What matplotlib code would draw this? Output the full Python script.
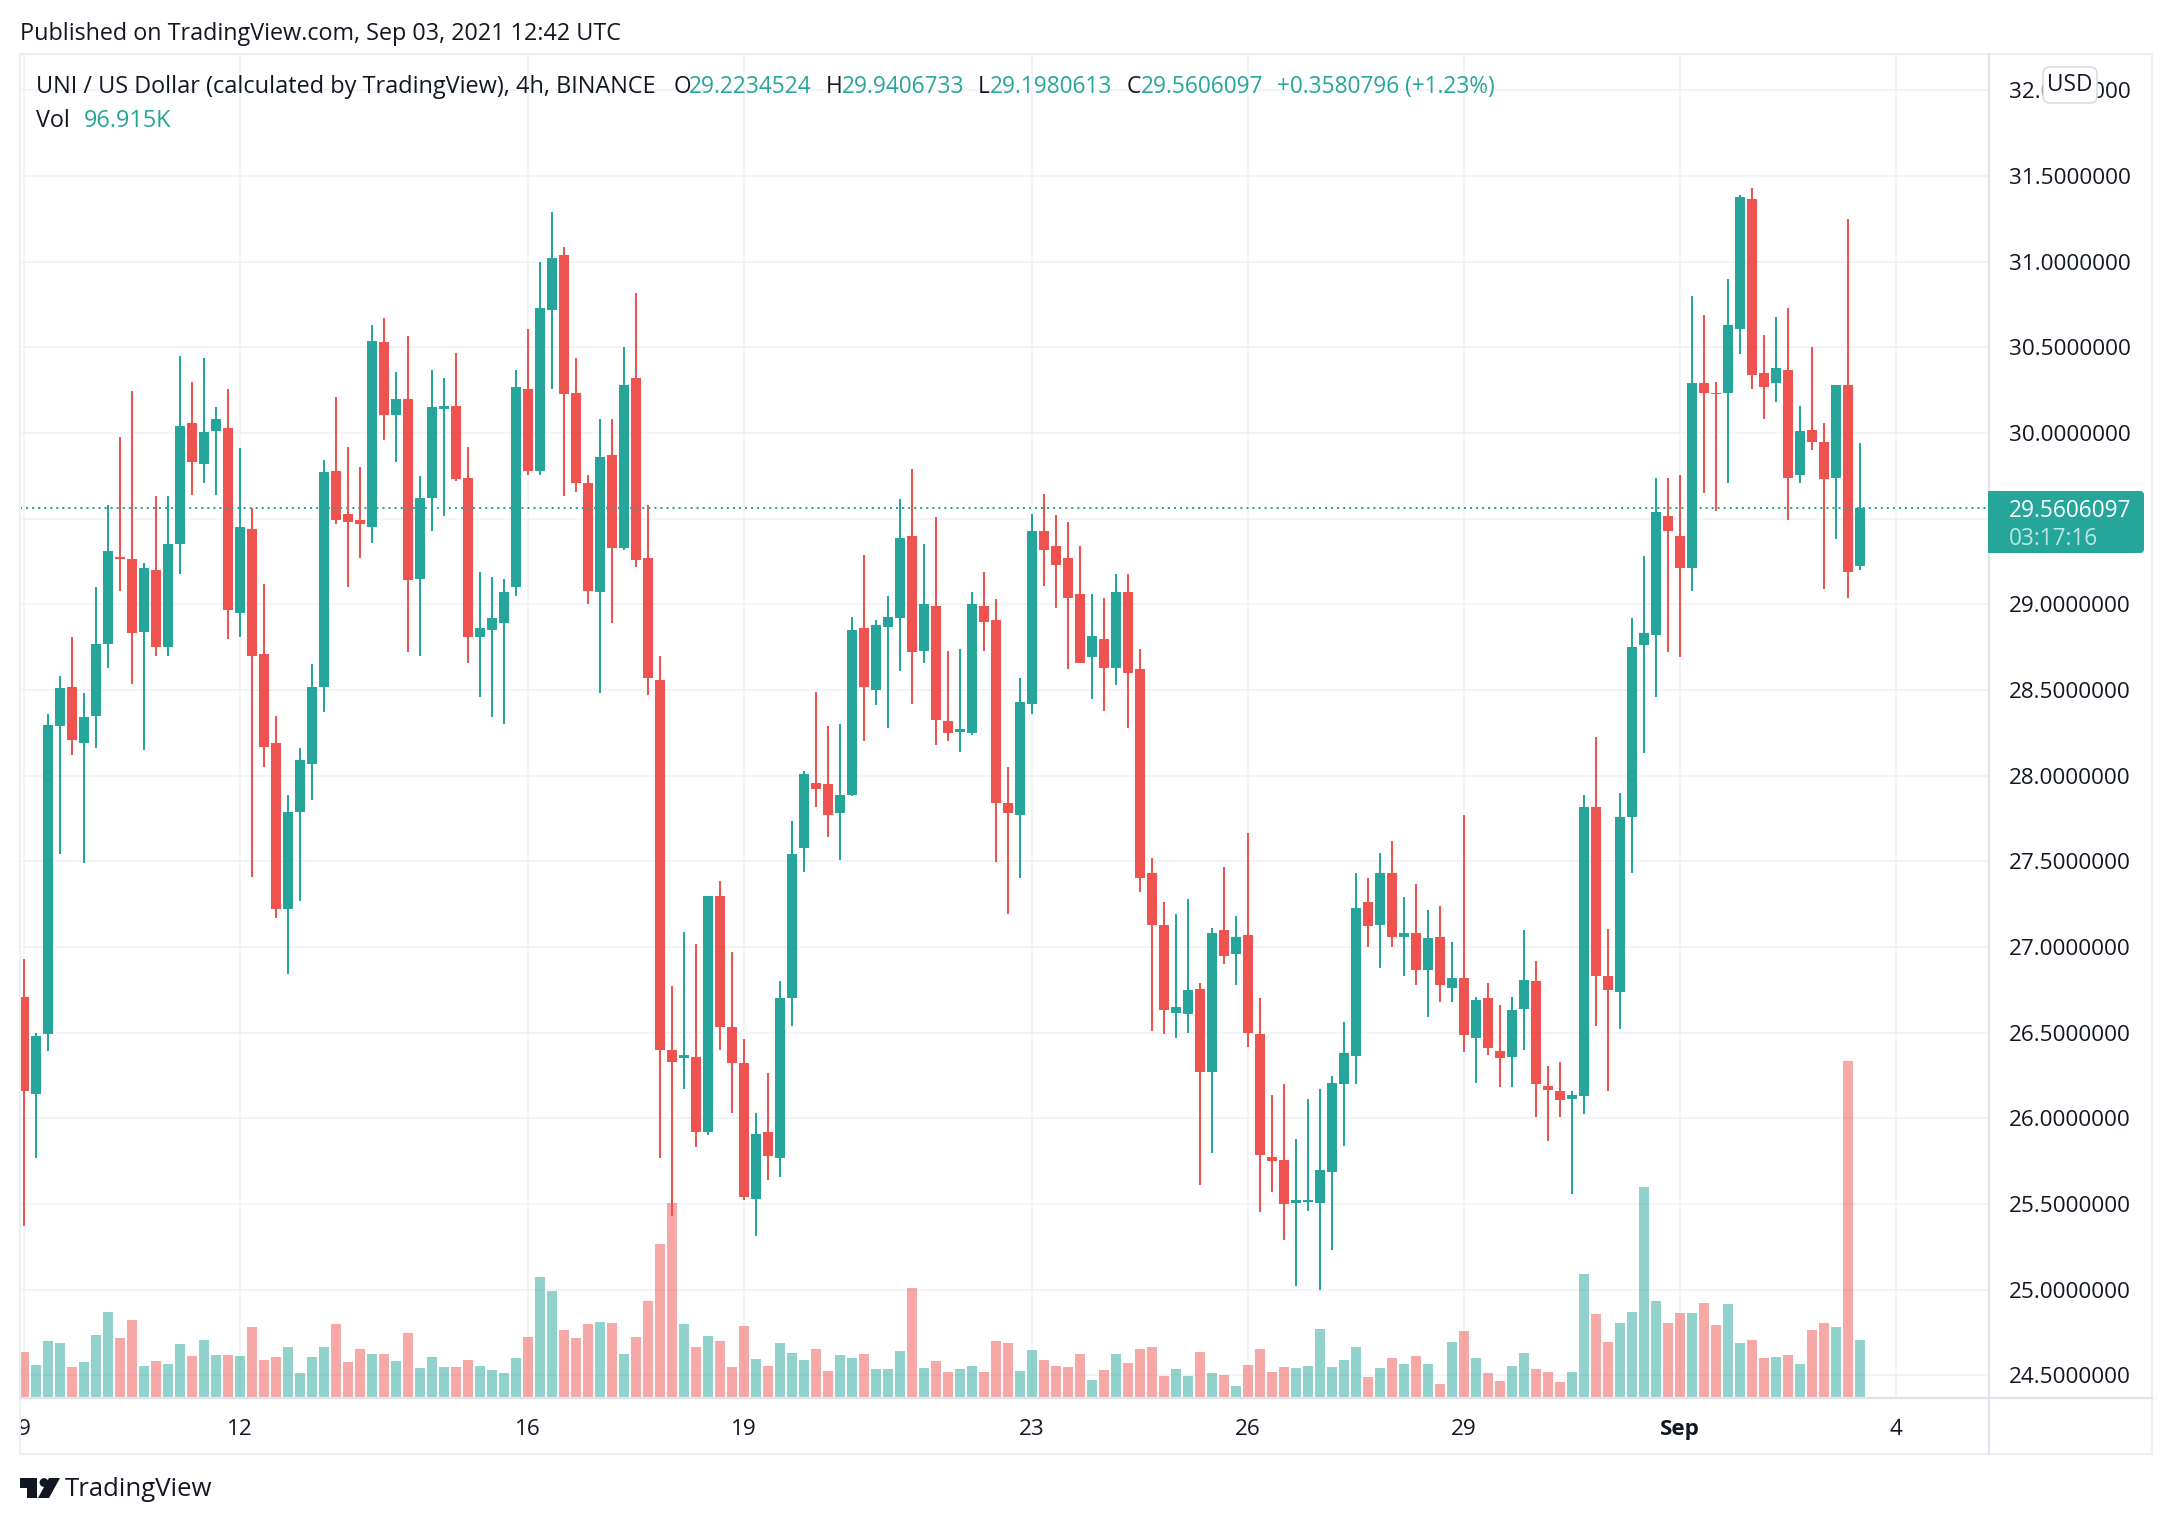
#Recreates a TradingView UNI/USD 4h candlestick chart with volume bars.

import matplotlib
matplotlib.use('Agg')
import matplotlib.pyplot as plt
from matplotlib.patches import Rectangle, FancyBboxPatch, Polygon, Circle

plt.rcParams['font.family'] = ['Open Sans', 'Noto Sans', 'DejaVu Sans']

# Candles, 4h each, index 0 is 9 Aug 00:00
opens = [26.71, 26.14, 26.49, 28.29, 28.52, 28.19, 28.35, 28.77, 29.275, 29.265,
         28.84, 29.20, 28.75, 29.35, 30.06, 29.82, 30.01, 30.03, 28.95, 29.44,
         28.71, 28.19, 27.22, 27.79, 28.07, 28.52, 29.78, 29.53, 29.49, 29.45,
         30.53, 30.105, 30.20, 29.15, 29.62, 30.14, 30.16, 29.74, 28.81, 28.85,
         28.89, 29.10, 30.26, 29.78, 30.72, 31.04, 30.235, 29.71, 29.07, 29.87,
         29.33, 30.32, 29.27, 28.56, 26.40, 26.35, 26.36, 25.92, 27.30, 26.53,
         26.32, 25.53, 25.92, 25.77, 26.70, 27.58, 27.96, 27.95, 27.78, 27.89,
         28.86, 28.50, 28.87, 28.92, 29.40, 28.73, 28.99, 28.32, 28.255, 28.25,
         28.99, 28.91, 27.84, 27.77, 28.42, 29.43, 29.34, 29.27, 29.06, 28.69,
         28.80, 28.63, 29.07, 28.62, 27.43, 27.13, 26.615, 26.61, 26.755, 26.27,
         27.10, 26.96, 27.07, 26.49, 25.774, 25.756, 25.505, 25.51, 25.505, 25.686,
         26.20, 26.363, 27.26, 27.13, 27.43, 27.06, 27.08, 26.865, 27.06, 26.76,
         26.82, 26.47, 26.70, 26.393, 26.358, 26.64, 26.80, 26.188, 26.16, 26.112,
         26.13, 27.816, 26.83, 26.74, 27.76, 28.76, 28.82, 29.515, 29.40, 29.215,
         30.29, 30.235, 30.235, 30.61, 31.367, 30.35, 30.29, 30.37, 29.755, 30.02,
         29.95, 29.74, 30.28, 29.2235]
highs = [26.93, 26.50, 28.36, 28.58, 28.81, 28.48, 29.10, 29.58, 29.98, 30.245,
         29.24, 29.63, 29.63, 30.45, 30.30, 30.44, 30.15, 30.26, 29.91, 29.56,
         29.12, 28.35, 27.89, 28.16, 28.65, 29.84, 30.21, 29.92, 29.80, 30.63,
         30.67, 30.355, 30.565, 29.75, 30.37, 30.32, 30.47, 29.92, 29.19, 29.16,
         29.15, 30.37, 30.61, 30.997, 31.29, 31.085, 30.44, 29.755, 30.08, 30.08,
         30.50, 30.82, 29.58, 28.70, 26.77, 27.09, 27.02, 27.30, 27.385, 26.97,
         26.46, 26.03, 26.265, 26.80, 27.735, 28.03, 28.49, 28.29, 28.30, 28.925,
         29.29, 28.91, 29.05, 29.615, 29.79, 29.35, 29.51, 28.73, 28.74, 29.07,
         29.19, 29.03, 28.05, 28.57, 29.53, 29.645, 29.52, 29.48, 29.34, 29.06,
         29.04, 29.18, 29.18, 28.74, 27.52, 27.26, 27.19, 27.28, 26.79, 27.11,
         27.465, 27.18, 27.665, 26.70, 26.136, 26.20, 25.88, 26.11, 26.17, 26.247,
         26.56, 27.43, 27.40, 27.55, 27.62, 27.29, 27.37, 27.215, 27.24, 27.03,
         27.77, 26.71, 26.79, 26.66, 26.71, 27.10, 26.92, 26.305, 26.328, 26.16,
         27.89, 28.225, 27.105, 27.90, 28.92, 29.28, 29.74, 29.74, 29.755, 30.80,
         30.69, 30.30, 30.90, 31.39, 31.43, 30.57, 30.68, 30.73, 30.16, 30.50,
         30.06, 30.28, 31.25, 29.9407]
lows = [25.37, 25.77, 26.39, 27.54, 28.12, 27.49, 28.16, 28.63, 29.08, 28.535,
        28.15, 28.70, 28.70, 29.18, 29.64, 29.71, 29.64, 28.80, 28.81, 27.41,
        28.05, 27.17, 26.84, 27.27, 27.86, 28.37, 29.47, 29.10, 29.27, 29.36,
        29.96, 29.83, 28.72, 28.70, 29.43, 29.515, 29.72, 28.66, 28.46, 28.34,
        28.30, 29.05, 29.755, 29.755, 30.26, 29.63, 29.655, 29.00, 28.48, 28.89,
        29.32, 29.22, 28.47, 25.77, 25.43, 26.17, 25.83, 25.90, 26.40, 26.03,
        25.52, 25.31, 25.64, 25.66, 26.54, 27.44, 27.82, 27.64, 27.51, 27.88,
        28.20, 28.41, 28.28, 28.61, 28.42, 28.66, 28.18, 28.20, 28.14, 28.24,
        28.73, 27.495, 27.19, 27.40, 28.36, 29.11, 28.98, 28.62, 28.655, 28.45,
        28.38, 28.53, 28.28, 27.32, 26.51, 26.49, 26.47, 26.50, 25.61, 25.80,
        26.90, 26.78, 26.416, 25.45, 25.57, 25.29, 25.02, 25.46, 25.00, 25.23,
        25.84, 26.20, 27.00, 26.88, 27.00, 26.83, 26.78, 26.59, 26.68, 26.68,
        26.387, 26.206, 26.37, 26.18, 26.18, 26.40, 26.007, 25.867, 26.007, 25.558,
        26.025, 26.54, 26.16, 26.52, 27.43, 28.13, 28.46, 28.72, 28.69, 29.08,
        29.65, 29.544, 29.71, 30.46, 30.26, 30.08, 30.18, 29.49, 29.71, 29.90,
        29.09, 29.38, 29.04, 29.198]
closes = [26.16, 26.48, 28.295, 28.51, 28.21, 28.34, 28.77, 29.31, 29.267, 28.83,
          29.21, 28.75, 29.35, 30.04, 29.83, 30.005, 30.08, 28.97, 29.45, 28.70,
          28.17, 27.22, 27.79, 28.09, 28.52, 29.77, 29.49, 29.48, 29.47, 30.54,
          30.105, 30.20, 29.14, 29.62, 30.15, 30.16, 29.73, 28.81, 28.86, 28.92,
          29.07, 30.27, 29.78, 30.73, 31.02, 30.23, 29.71, 29.08, 29.86, 29.33,
          30.28, 29.26, 28.57, 26.40, 26.33, 26.37, 25.92, 27.30, 26.53, 26.32,
          25.54, 25.91, 25.78, 26.70, 27.54, 28.01, 27.92, 27.77, 27.89, 28.85,
          28.52, 28.88, 28.925, 29.39, 28.72, 29.00, 28.325, 28.25, 28.27, 29.00,
          28.90, 27.84, 27.78, 28.43, 29.43, 29.32, 29.23, 29.04, 28.66, 28.815,
          28.63, 29.07, 28.60, 27.40, 27.13, 26.63, 26.65, 26.75, 26.27, 27.08,
          26.95, 27.06, 26.50, 25.785, 25.75, 25.50, 25.523, 25.523, 25.698, 26.206,
          26.38, 27.23, 27.12, 27.43, 27.06, 27.08, 26.865, 27.05, 26.78, 26.82,
          26.488, 26.69, 26.41, 26.352, 26.63, 26.81, 26.20, 26.165, 26.107, 26.136,
          27.816, 26.83, 26.75, 27.76, 28.75, 28.83, 29.54, 29.43, 29.215, 30.29,
          30.235, 30.23, 30.63, 31.377, 30.34, 30.27, 30.38, 29.74, 30.01, 29.95,
          29.73, 30.28, 29.19, 29.5606]
# Volume in thousands
volumes = [76.5, 54.4, 95.2, 91.8, 51, 59.5, 105.4, 144.5, 100.3, 130.9,
           52.7, 61.2, 56.1, 90.1, 69.7, 96.9, 71.4, 71.4, 69.7, 119,
           62.9, 68, 85, 40.8, 68, 85, 124.1, 59.5, 81.6, 73.1,
           73.1, 61.2, 108.8, 49.3, 68, 51, 51, 62.9, 52.7, 45.9,
           40.8, 66.3, 102, 204, 180.2, 113.9, 100.3, 124.1, 127.5, 125.8,
           73.1, 102, 163.2, 260.1, 329.8, 124.1, 85, 103.7, 95.2, 51,
           120.7, 64.6, 52.7, 91.8, 74.8, 62.9, 81.6, 44.2, 71.4, 66.3,
           73.1, 47.6, 47.6, 78.2, 185.3, 49.3, 61.2, 42.5, 47.6, 52.7,
           42.5, 95.2, 91.8, 44.2, 79.9, 62.9, 52.7, 51, 73.1, 28.9,
           45.9, 73.1, 57.8, 81.6, 85, 35.7, 47.6, 35.7, 76.5, 40.8,
           37.4, 18.7, 54.4, 81.6, 42.5, 51, 49.3, 52.7, 115.6, 51,
           62.9, 85, 34, 49.3, 66.3, 56.1, 69.7, 56.1, 22.1, 93.5,
           112.2, 66.3, 40.8, 27.2, 52.7, 74.8, 47.6, 42.5, 25.5, 42.5,
           209.1, 141.1, 93.5, 125.8, 144.5, 357, 163.2, 125.8, 142.8, 142.8,
           159.8, 122.4, 158.1, 91.8, 96.9, 66.3, 68, 71.4, 56.1, 113.9,
           125.8, 119, 571.2, 96.9]

price_ticks = [24.5, 25.0, 25.5, 26.0, 26.5, 27.0, 27.5, 28.0, 28.5, 29.0, 29.5, 30.0, 30.5, 31.0, 31.5, 32.0]
date_ticks = [0, 18, 42, 60, 84, 102, 120, 138, 156]
date_labels = ['9', '12', '16', '19', '23', '26', '29', 'Sep', '4']
last_price = 29.5606097

GREEN = '#26a69a'
RED = '#ef5350'
TEXT = '#131722'
GRID = '#f2f3f5'
BORDER = '#e0e3eb'
FRAME = '#eeeff4'

W, H = 2172, 1524
# chart pane in pixels
PANE_L, PANE_R, PANE_T, PANE_B = 20, 1989, 54, 1398
x_lim = (-1/3, 163.75)
y_lim = (24.367, 32.213)
vol_lim = (-1.7, 2283)

fig = plt.figure(figsize=(W/100, H/100), dpi=100, facecolor='white')
pane = [PANE_L/W, 1-PANE_B/H, (PANE_R-PANE_L)/W, (PANE_B-PANE_T)/H]

# Grid lies at the bottom so it shows through the volume bars
ax_grid = fig.add_axes(pane, zorder=0)
ax_grid.set_xlim(x_lim)
ax_grid.set_ylim(y_lim)
ax_grid.hlines(price_ticks, x_lim[0], x_lim[1], color=GRID, lw=1.3)
ax_grid.vlines(date_ticks, y_lim[0], y_lim[1], color=GRID, lw=1.3)
ax_grid.axis('off')

x = list(range(len(opens)))
up = [c >= o for o, c in zip(opens, closes)]
colors = [GREEN if u else RED for u in up]

ax_vol = fig.add_axes(pane, zorder=1)
ax_vol.patch.set_visible(False)
ax_vol.set_xlim(x_lim)
ax_vol.set_ylim(vol_lim)
ax_vol.bar(x, volumes, width=0.83, color=colors, alpha=0.5, linewidth=0)
ax_vol.axis('off')

ax = fig.add_axes(pane, zorder=2)
ax.patch.set_visible(False)
ax.set_xlim(x_lim)
ax.set_ylim(y_lim)
ax.vlines(x, lows, highs, color=colors, lw=1.45, zorder=2)
bottoms = [min(o, c) for o, c in zip(opens, closes)]
heights = [abs(o - c) for o, c in zip(opens, closes)]
ax.bar(x, heights, bottom=bottoms, width=0.83, color=colors, linewidth=0, zorder=3)
ax.axhline(last_price, color=GREEN, lw=1.45, linestyle=(0, (1, 2)), dash_capstyle='butt', zorder=4)

for side in ax.spines.values():
    side.set_visible(False)
ax.yaxis.tick_right()
ax.set_yticks(price_ticks)
# the 29.5 label sits under the last price badge in the original
ax.set_yticklabels(['' if p == 29.5 else '{:.7f}'.format(p) for p in price_ticks])
ax.set_xticks(date_ticks)
ax.set_xticklabels(date_labels)
ax.tick_params(axis='y', length=0, pad=14.4, labelsize=16.2, labelcolor=TEXT)
ax.tick_params(axis='x', length=0, pad=14.8, labelsize=16.2, labelcolor=TEXT)
ax.get_xticklabels()[date_labels.index('Sep')].set_fontweight('bold')

# Everything around the chart is placed in pixels on a full-size overlay
ui = fig.add_axes([0, 0, 1, 1], zorder=5)
ui.patch.set_visible(False)
ui.set_xlim(0, W)
ui.set_ylim(H, 0)
ui.axis('off')

ui.add_patch(Rectangle((20, 54), 2132, 1400, fill=False, edgecolor=FRAME, lw=1.5))
ui.plot([1989, 1989], [54, 1454], color=BORDER, lw=1.5)
ui.plot([20, 2152], [1398, 1398], color=BORDER, lw=1.7)

def label(px, py, s, color=TEXT, size=16.3, **kw):
    ui.text(px, py + 2, s, color=color, fontsize=size, va='center', zorder=6, **kw)

label(20, 32, 'Published on TradingView.com, Sep 03, 2021 12:42 UTC', size=16.8)
label(36, 85, 'UNI / US Dollar (calculated by TradingView), 4h, BINANCE', size=16.9)
label(674, 85, 'O')
label(689, 85, '29.2234524', color=GREEN)
label(826, 85, 'H')
label(842, 85, '29.9406733', color=GREEN)
label(978, 85, 'L')
label(990, 85, '29.1980613', color=GREEN)
label(1127, 85, 'C')
label(1141, 85, '29.5606097', color=GREEN)
label(1277, 85, '+0.3580796 (+1.23%)', color=GREEN)
label(36, 119, 'Vol', size=16.8)
label(84, 119, '96.915K', color=GREEN, size=16.8)

# USD button
ui.add_patch(FancyBboxPatch((2049, 73), 42, 24, boxstyle='round,pad=6,rounding_size=7',
                            facecolor='white', edgecolor='#d6dae4', lw=1.1, zorder=3))
label(2070, 83, 'USD', ha='center')

# Last price badge
ui.add_patch(FancyBboxPatch((1992, 495), 148, 54, boxstyle='round,pad=4,rounding_size=4',
                            facecolor=GREEN, edgecolor='none', zorder=3))
ui.add_patch(Rectangle((1988, 491), 10, 62, facecolor=GREEN, edgecolor='none', zorder=3))
label(2009, 509, '29.5606097', color='white')
label(2009, 537, '03:17:16', color='#bde5e1')

# Logo
ui.add_patch(Polygon([(20, 1478), (37, 1478), (37, 1498), (27, 1498), (27, 1488), (20, 1488)],
                     facecolor=TEXT, edgecolor='none'))
ui.add_patch(Circle((44, 1482.5), 4.4, facecolor=TEXT, edgecolor='none'))
ui.add_patch(Polygon([(49, 1478), (60, 1478), (49, 1498), (38, 1498)], facecolor=TEXT, edgecolor='none'))
label(65, 1487, 'TradingView', size=18.5)

fig.savefig('out.png', dpi=100)
